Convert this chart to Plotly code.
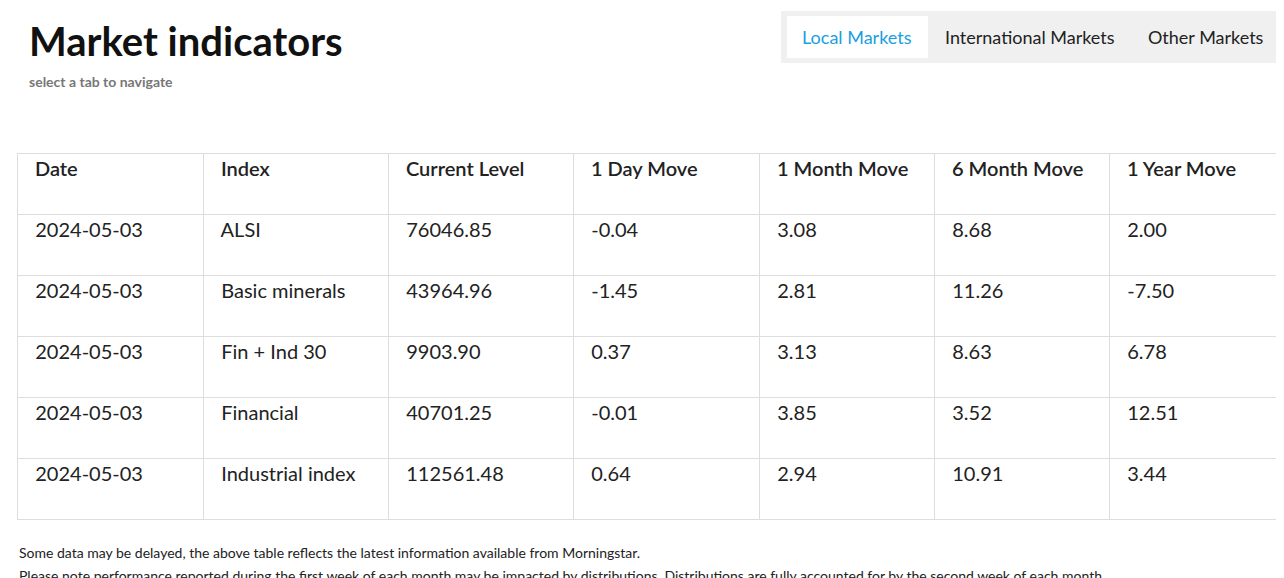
import plotly.graph_objects as go

headers = ["Date", "Index", "Current Level", "1 Day Move", "1 Month Move", "6 Month Move", "1 Year Move"]
dates = ["2024-05-03"] * 5
indices = ["ALSI", "Basic minerals", "Fin + Ind 30", "Financial", "Industrial index"]
levels = ["76046.85", "43964.96", "9903.90", "40701.25", "112561.48"]
day_move = ["-0.04", "-1.45", "0.37", "-0.01", "0.64"]
month_move = ["3.08", "2.81", "3.13", "3.85", "2.94"]
six_month_move = ["8.68", "11.26", "8.63", "3.52", "10.91"]
year_move = ["2.00", "-7.50", "6.78", "12.51", "3.44"]
tabs = ["Local Markets", "International Markets", "Other Markets"]
tab_x = [849, 1022, 1198]

W, H = 1284, 578
pad = "  "
fig = go.Figure(go.Table(
    domain=dict(x=[9 / W, 1277 / W], y=[1 - 512 / H, 1 - 145 / H]),
    columnwidth=[186, 185, 185, 186, 175, 175, 176],
    header=dict(values=[pad + h for h in headers], height=61, align="left",
                fill_color="white", line_color="#dddddd",
                font=dict(family="Lato", size=20, color="#222222", weight=600)),
    cells=dict(values=[[pad + v for v in col] for col in
                       [dates, indices, levels, day_move, month_move, six_month_move, year_move]],
               height=61, align="left", fill_color="white", line_color="#dddddd",
               font=dict(family="Lato", size=20, color="#222222")),
))

shapes = [
    dict(type="rect", xref="paper", yref="paper", x0=773 / W, x1=1277 / W, y0=1 - 55 / H, y1=1 - 3 / H,
         fillcolor="#f0f0f0", line=dict(width=0), layer="below"),
    dict(type="rect", xref="paper", yref="paper", x0=779 / W, x1=920 / W, y0=1 - 50 / H, y1=1 - 8 / H,
         fillcolor="white", line=dict(width=0), layer="below"),
]
ann = [
    dict(text="<b>Market indicators</b>", x=19 / W, y=1 - 33 / H, xanchor="left", yanchor="middle",
         font=dict(family="Lato", size=40, color="#111111")),
    dict(text="<b>select a tab to navigate</b>", x=19 / W, y=1 - 74 / H, xanchor="left", yanchor="middle",
         font=dict(family="Lato", size=14, color="#777777")),
    dict(text="Some data may be delayed, the above table reflects the latest information available from Morningstar.",
         x=9 / W, y=1 - 544 / H, xanchor="left", yanchor="middle", font=dict(family="Lato", size=14, color="#222222")),
    dict(text="Please note performance reported during the first week of each month may be impacted by distributions. Distributions are fully accounted for by the second week of each month.",
         x=9 / W, y=1 - 567 / H, xanchor="left", yanchor="middle", font=dict(family="Lato", size=14, color="#222222")),
]
for i, (t, x) in enumerate(zip(tabs, tab_x)):
    ann.append(dict(text=t, x=x / W, y=1 - 29 / H, xanchor="center", yanchor="middle",
                    font=dict(family="Lato", size=18, color="#1a9fe0" if i == 0 else "#222222")))
for a in ann:
    a.update(xref="paper", yref="paper", showarrow=False)

fig.update_layout(width=W, height=H, margin=dict(l=0, r=0, t=0, b=0), paper_bgcolor="white",
                  shapes=shapes, annotations=ann)
fig.write_html("out.html")
